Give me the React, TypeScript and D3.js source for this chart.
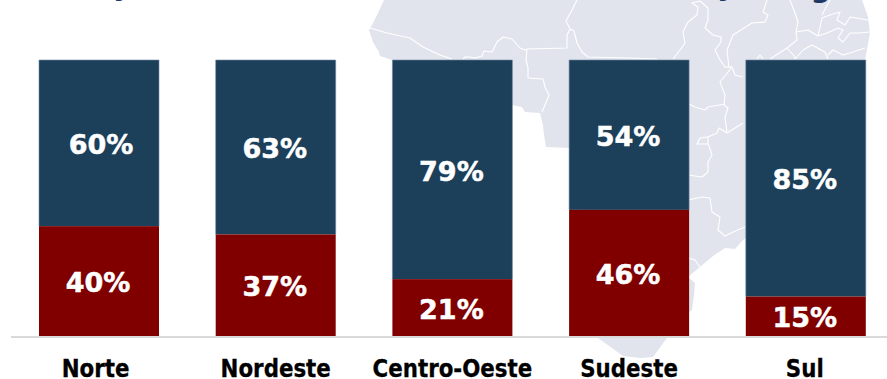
import React from "react";
import * as d3 from "d3";

const WIDTH = 887;
const HEIGHT = 379;

const categories = ["Norte", "Nordeste", "Centro-Oeste", "Sudeste", "Sul"];
const upperLabels = ["60%", "63%", "79%", "54%", "85%"];
const lowerLabels = ["40%", "37%", "21%", "46%", "15%"];
// share of the lower segment
const lowerValues = [39.8, 36.8, 20.6, 45.7, 14.3];

const NAVY = "#1c3f5a";
const RED = "#800000";
const MAP = "#e1e4ec";
const FONT = "'DejaVu Sans', Verdana, sans-serif";

type P = [number, number];

const mapOutline: P[] = [
  [384, 0], [378, 13], [372, 25], [369, 30], [373, 42], [379, 52], [380, 56], [392, 60], [420, 90],
  [512, 105], [522, 107], [525, 112], [540, 113], [543, 125], [544, 135], [546, 147], [570, 148],
  [590, 250], [598, 338], [605, 343], [623, 356], [640, 358], [653, 357], [667, 338], [680, 320],
  [688, 313], [692, 310], [694, 295], [695, 283], [688, 277], [700, 267], [713, 256], [725, 248],
  [735, 249], [743, 240], [746, 238], [780, 150], [865, 60], [870, 33], [868, 17], [862, 0],
];

const mapBorders: P[][] = [
  [[370, 28], [387, 33], [410, 38], [423, 47], [440, 55], [452, 59]],
  [[463, 59], [465, 57], [470, 57], [475, 58], [482, 56], [484, 51], [492, 52], [497, 42], [503, 37], [512, 39], [520, 48], [525, 50], [527, 49], [567, 48], [567, 35], [570, 29], [566, 21], [573, 8], [577, 0]],
  [[527, 49], [526, 60], [528, 68], [528, 78], [543, 79], [545, 87], [549, 95], [545, 105], [542, 112]],
  [[570, 29], [574, 31], [577, 43], [582, 52], [588, 57], [627, 58], [657, 59]],
  [[673, 59], [680, 50], [685, 43], [683, 32], [688, 22], [697, 15], [698, 7], [692, 3], [700, 1], [708, 8], [708, 20], [705, 28], [713, 35], [721, 37], [721, 42], [715, 50], [720, 60], [725, 67], [732, 67], [720, 82], [725, 95], [724, 105], [728, 108], [725, 117], [727, 133], [743, 123]],
  [[689, 104], [695, 107], [705, 110], [708, 107], [725, 104]],
  [[727, 133], [719, 128], [717, 133], [708, 137], [708, 144], [709, 146], [712, 155], [708, 162], [708, 172], [702, 177], [688, 175]],
  [[708, 137], [700, 138], [697, 144], [708, 144]],
  [[688, 200], [702, 197], [710, 198], [712, 212], [720, 217], [718, 230], [725, 236], [733, 232], [745, 227]],
  [[688, 258], [695, 260], [700, 267]],
  [[729, 68], [727, 50], [733, 35], [752, 23], [765, 22], [768, 15], [763, 12], [767, 0]],
  [[732, 67], [735, 75], [743, 77]],
  [[790, 0], [795, 13], [798, 22], [796, 32], [797, 40], [787, 48], [770, 59]],
  [[787, 48], [795, 57], [795, 59]],
  [[796, 32], [808, 30], [818, 36], [827, 33], [838, 28], [843, 30], [838, 38], [843, 42], [850, 33], [860, 33], [870, 32]],
  [[818, 36], [822, 18], [830, 15], [840, 12], [837, 20], [845, 25], [850, 17], [868, 20]],
  [[822, 15], [830, 0]],
  [[795, 59], [803, 50], [812, 45], [825, 52], [828, 59]],
  [[828, 55], [833, 50], [843, 55], [853, 52], [865, 48]],
  [[757, 59], [760, 55], [763, 59]],
];

const titleFragments: { t: string; x: number; y: number }[] = [
  { t: "y", x: 116, y: -5 },
  { t: "y", x: 720, y: -5 },
  { t: "g", x: 813, y: -3 },
];

export default function App() {
  const x = d3.scalePoint<string>().domain(categories).range([99, 805.8]);
  const cx = (c: string) => x(c) as number;
  const bw = 120;
  const y = d3.scaleLinear().domain([0, 100]).range([336, 60]);
  const line = d3.line<P>().curve(d3.curveLinear);

  return (
    <svg
      width={WIDTH}
      height={HEIGHT}
      viewBox={`0 0 ${WIDTH} ${HEIGHT}`}
      style={{ position: "absolute", left: 0, top: 0, display: "block" }}
    >
      <rect width={WIDTH} height={HEIGHT} fill="#fff" />
      <path d={line(mapOutline) + "Z"} fill={MAP} />
      {mapBorders.map((b, i) => (
        <path key={i} d={line(b) ?? ""} fill="none" stroke="#fff" strokeWidth={1.1} strokeLinejoin="round" />
      ))}
      {titleFragments.map((f, i) => (
        <text key={i} x={f.x} y={f.y} fontFamily={FONT} fontWeight={700} fontStyle="italic" fontSize={28} fill="#1f3864">
          {f.t}
        </text>
      ))}
      <line x1={11} x2={WIDTH} y1={337} y2={337} stroke="#d9d9d9" strokeWidth={2} />
      {categories.map((c, i) => {
        const left = cx(c) - bw / 2;
        const yLo = y(lowerValues[i]);
        const yTop = y(100);
        const yBase = y(0);
        const upperDx = c === "Norte" ? 2 : -1;
        const labelDx = c === "Norte" ? -3.5 : c === "Sul" ? -1 : 0;
        const pct = {
          textAnchor: "middle" as const,
          fontFamily: FONT,
          fontWeight: 700,
          fontSize: 27,
          fill: "#fff",
          stroke: "#fff",
          strokeWidth: 0.5,
        };
        return (
          <g key={c}>
            <rect x={left} y={yTop} width={bw} height={yLo - yTop} fill={NAVY} />
            <path
              d={`M${left},${yLo}V${yTop}H${left + bw}V${yLo}`}
              fill="none"
              stroke="#7488a6"
              strokeWidth={0.6}
            />
            <rect x={left} y={yLo} width={bw} height={yBase - yLo} fill={RED} />
            <text x={cx(c) + upperDx} y={(yTop + yLo) / 2 + 11} {...pct}>
              {upperLabels[i]}
            </text>
            <text x={cx(c) - 1} y={(yLo + yBase) / 2 + 11} {...pct}>
              {lowerLabels[i]}
            </text>
            <text
              transform={`translate(${cx(c) + labelDx},377) scale(0.89,1)`}
              textAnchor="middle"
              fontFamily={FONT}
              fontWeight={700}
              fontSize={24}
              fill="#000"
              stroke="#000"
              strokeWidth={0.3}
            >
              {c}
            </text>
          </g>
        );
      })}
    </svg>
  );
}
